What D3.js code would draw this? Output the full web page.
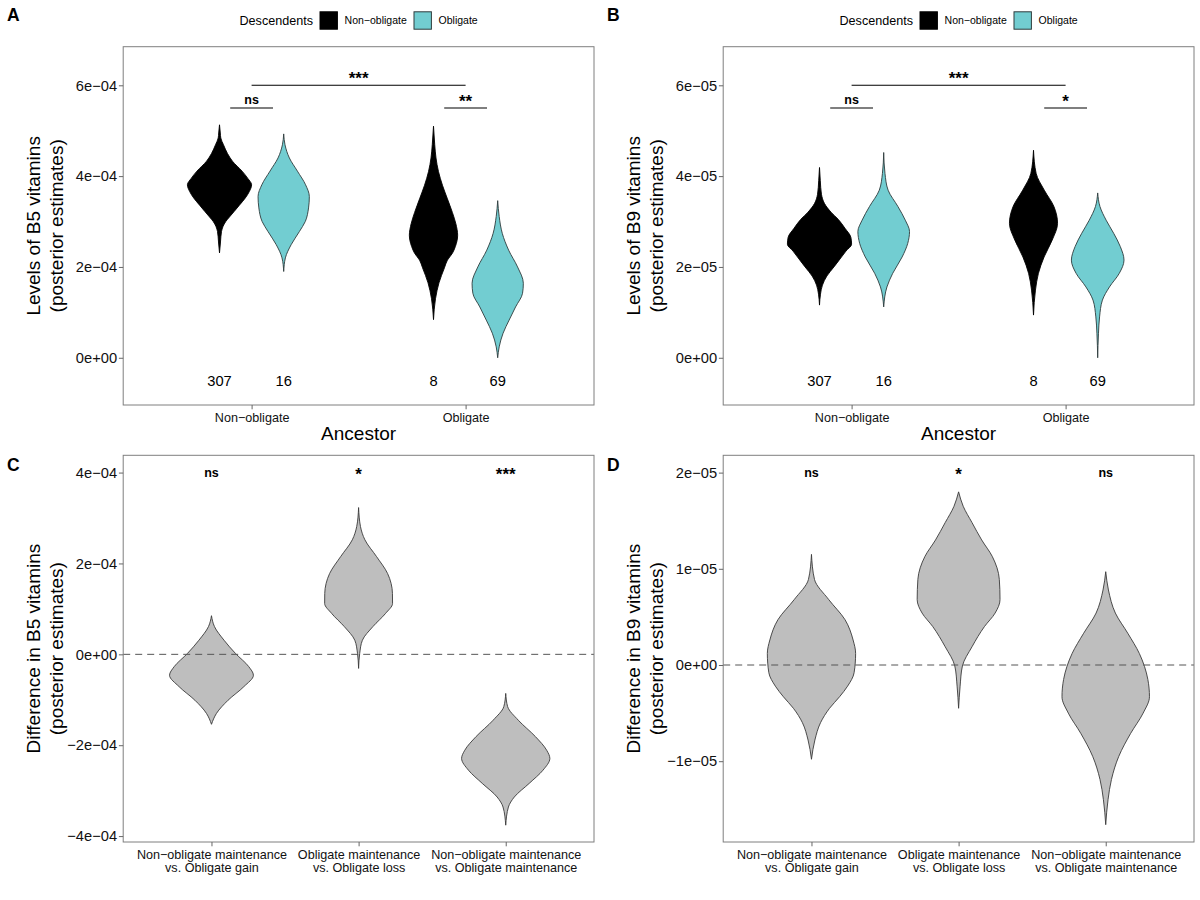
<!DOCTYPE html>
<html>
<head>
<meta charset="utf-8">
<script src="https://cdn.jsdelivr.net/npm/d3@7"></script>
<style>
  body { margin: 0; background: #fff; }
  svg { display: block; }
  text { font-family: "Liberation Sans", Arial, Helvetica, sans-serif; }
</style>
</head>
<body>
<div id="chart"></div>
<script>
// ---- data ----
// categories
const ancestorCats = ["Non−obligate", "Obligate"]
const descendentCats = ["Non−obligate", "Obligate"]
const contrastCats = [
    ["Non−obligate maintenance", "vs. Obligate gain"],
    ["Obligate maintenance", "vs. Obligate loss"],
    ["Non−obligate maintenance", "vs. Obligate maintenance"]
]

// sample sizes per (ancestor, descendent)
const groupCounts = [307, 16, 8, 69]

// violin profiles: [value, relative density], top to bottom
// panel A - B5 levels
const b5NonNon = [[5.13e-4, 0], [4.95e-4, 0.8], [4.84e-4, 1.3], [4.69e-4, 4], [4.50e-4, 8], [4.33e-4, 13],
    [4.11e-4, 22.7], [3.95e-4, 28.5], [3.81e-4, 32.3], [3.66e-4, 30], [3.52e-4, 26], [3.36e-4, 20],
    [3.22e-4, 14.7], [3.10e-4, 10], [3.00e-4, 6.3], [2.78e-4, 2], [2.55e-4, 1], [2.31e-4, 0]]
const b5NonObl = [[4.93e-4, 0], [4.69e-4, 1.3], [4.40e-4, 5.7], [4.11e-4, 13.8], [3.81e-4, 22], [3.55e-4, 25.8],
    [3.30e-4, 25], [3.00e-4, 21.7], [2.78e-4, 15.8], [2.49e-4, 7.5], [2.20e-4, 1.7], [1.90e-4, 0]]
const b5OblNon = [[5.10e-4, 0], [4.70e-4, 1.2], [4.40e-4, 2.5], [4.10e-4, 5], [3.80e-4, 9], [3.50e-4, 14],
    [3.20e-4, 19], [2.95e-4, 22.5], [2.70e-4, 24.3], [2.45e-4, 22], [2.30e-4, 19], [2.15e-4, 14],
    [1.98e-4, 11], [1.65e-4, 5.5], [1.30e-4, 2], [0.84e-4, 0]]
const b5OblObl = [[3.46e-4, 0], [3.11e-4, 1.5], [2.74e-4, 4.6], [2.37e-4, 11], [2.00e-4, 20], [1.64e-4, 25.8],
    [1.42e-4, 25], [1.12e-4, 18], [0.83e-4, 11.5], [0.54e-4, 5.4], [0.24e-4, 1.5], [0, 0]]

// panel B - B9 levels
const b9NonNon = [[4.19e-5, 0], [3.90e-5, 0.8], [3.60e-5, 2], [3.40e-5, 5], [3.20e-5, 12], [3.05e-5, 19],
    [2.85e-5, 26], [2.65e-5, 32], [2.50e-5, 32.7], [2.35e-5, 27], [2.15e-5, 20], [2.00e-5, 14.7],
    [1.80e-5, 7.5], [1.60e-5, 3], [1.40e-5, 1], [1.16e-5, 0]]
const b9NonObl = [[4.52e-5, 0], [4.06e-5, 1.3], [3.69e-5, 4.5], [3.33e-5, 14.5], [3.03e-5, 22], [2.78e-5, 26.3],
    [2.52e-5, 24.5], [2.22e-5, 18.8], [1.86e-5, 9.2], [1.56e-5, 3.3], [1.12e-5, 0]]
const b9OblNon = [[4.57e-5, 0], [4.06e-5, 2.7], [3.69e-5, 11], [3.33e-5, 20.8], [2.96e-5, 24.5], [2.59e-5, 19],
    [2.22e-5, 10.8], [1.86e-5, 5], [1.49e-5, 2], [0.94e-5, 0]]
const b9OblObl = [[3.63e-5, 0], [3.33e-5, 2.3], [3.03e-5, 8.6], [2.74e-5, 16.3], [2.45e-5, 23], [2.15e-5, 26.8],
    [1.86e-5, 22], [1.56e-5, 12], [1.27e-5, 4.8], [0.90e-5, 1.9], [0.54e-5, 0.8], [0, 0]]

// panel C - B5 differences
const b5DiffGain = [[0.85e-4, 0], [0.61e-4, 3], [0.31e-4, 12.6], [0.02e-4, 24], [-0.27e-4, 37.3], [-0.46e-4, 42],
    [-0.71e-4, 32.5], [-1.01e-4, 16.6], [-1.30e-4, 5], [-1.54e-4, 0]]
const b5DiffLoss = [[3.23e-4, 0], [2.81e-4, 1.9], [2.52e-4, 6.3], [2.15e-4, 18], [1.78e-4, 29], [1.34e-4, 33.9],
    [1.12e-4, 34], [0.90e-4, 27], [0.61e-4, 14.3], [0.31e-4, 3.8], [0.02e-4, 1.1], [-0.31e-4, 0]]
const b5DiffMaint = [[-0.86e-4, 0], [-1.15e-4, 1.9], [-1.45e-4, 12.6], [-1.81e-4, 29.7], [-2.11e-4, 41],
    [-2.29e-4, 44.2], [-2.55e-4, 37.3], [-2.84e-4, 23.5], [-3.14e-4, 8.6], [-3.36e-4, 2.7], [-3.76e-4, 0]]

// panel D - B9 differences
const b9DiffGain = [[1.15e-5, 0], [0.89e-5, 3], [0.68e-5, 17.2], [0.47e-5, 33.5], [0.26e-5, 41.5], [0.12e-5, 44],
    [-0.08e-5, 42.5], [-0.22e-5, 36], [-0.33e-5, 28], [-0.45e-5, 18], [-0.60e-5, 9], [-0.78e-5, 3.4], [-0.98e-5, 0]]
const b9DiffLoss = [[1.80e-5, 0], [1.65e-5, 4.6], [1.48e-5, 13.4], [1.30e-5, 23], [1.13e-5, 33.5], [0.89e-5, 40.6],
    [0.68e-5, 41.3], [0.54e-5, 36.4], [0.40e-5, 25.8], [0.19e-5, 13.4], [-0.01e-5, 3.8], [-0.22e-5, 1.5],
    [-0.45e-5, 0]]
const b9DiffMaint = [[0.97e-5, 0], [0.78e-5, 2.7], [0.54e-5, 9.6], [0.33e-5, 22], [0.12e-5, 33.5],
    [-0.15e-5, 42], [-0.33e-5, 43.6], [-0.50e-5, 37.3], [-0.71e-5, 24.9], [-0.95e-5, 13], [-1.19e-5, 5.7],
    [-1.40e-5, 2.3], [-1.66e-5, 0]]

// axis limits and ticks
const b5Limits = [-1.04e-4, 6.85e-4]
const b5Ticks = [0, 2e-4, 4e-4, 6e-4]
const b5TickLabels = ["0e+00", "2e−04", "4e−04", "6e−04"]
const b9Limits = [-1.04e-5, 6.85e-5]
const b9Ticks = [0, 2e-5, 4e-5, 6e-5]
const b9TickLabels = ["0e+00", "2e−05", "4e−05", "6e−05"]
const b5DiffLimits = [-4.13e-4, 4.38e-4]
const b5DiffTicks = [-4e-4, -2e-4, 0, 2e-4, 4e-4]
const b5DiffTickLabels = ["−4e−04", "−2e−04", "0e+00", "2e−04", "4e−04"]
const b9DiffLimits = [-1.84e-5, 2.18e-5]
const b9DiffTicks = [-1e-5, 0, 1e-5, 2e-5]
const b9DiffTickLabels = ["−1e−05", "0e+00", "1e−05", "2e−05"]

// significance: brackets for A/B [from, to, y, label]; from/to are [ancestor, dodge]
const b5Brackets = [[[0, 0], [1, 0], 6e-4, "***"], [[0, -0.1], [0, 0.1], 5.5e-4, "ns"], [[1, -0.1], [1, 0.1], 5.5e-4, "**"]]
const b9Brackets = [[[0, 0], [1, 0], 6e-5, "***"], [[0, -0.1], [0, 0.1], 5.5e-5, "ns"], [[1, -0.1], [1, 0.1], 5.5e-5, "*"]]
const b5DiffSig = ["ns", "*", "***"]
const b9DiffSig = ["ns", "*", "ns"]

// ---- drawing ----
const width = 1200, height = 900
const colors = {"Non−obligate": "#000000", "Obligate": "#72CDD1"}
const strokes = {"Non−obligate": "#000000", "Obligate": "#2E3B3C"}

const svg = d3.select("#chart").append("svg")
    .attr("width", width).attr("height", height)
svg.append("rect").attr("width", width).attr("height", height).attr("fill", "#fff")

const boxTop = {x0: 123.2, x1: 594, y0: 46.7, y1: 405}
const boxBottom = {x0: 123.2, x1: 594, y0: 455.3, y1: 842}

function sigShift(label) {
    // asterisks sit a bit lower than "ns"
    return label.indexOf("*") >= 0 ? 3 : 0
}
function sigSize(label) {
    return label.indexOf("*") >= 0 ? "17px" : "12.5px"
}

function drawPanel(p) {
    const g = svg.append("g").attr("transform", `translate(${p.ox},${p.oy})`)
    const b = p.box
    const catKeys = p.cats.map((c, i) => i)
    const x = d3.scalePoint().domain(catKeys).range([b.x0, b.x1]).padding(0.6)
    const y = d3.scaleLinear().domain(p.limits).range([b.y1, b.y0])
    const step = x.step()
    const maxD = d3.max(p.violins, v => d3.max(v.profile, q => q[1]))
    const w = d3.scaleLinear().domain([0, maxD]).range([0, p.halfWidth * step])

    // violins
    p.violins.forEach(v => {
        const cx = x(v.cat) + v.dodge * step
        const area = d3.area()
            .curve(d3.curveMonotoneY)
            .y(q => y(q[0]))
            .x0(q => cx - w(q[1]))
            .x1(q => cx + w(q[1]))
        g.append("path")
            .datum(v.profile)
            .attr("d", area)
            .attr("fill", v.fill)
            .attr("stroke", v.stroke)
            .attr("stroke-width", 0.9)
    })

    // dashed zero line
    if (p.zeroLine) {
        g.append("line")
            .attr("x1", b.x0).attr("x2", b.x1)
            .attr("y1", y(0)).attr("y2", y(0))
            .attr("stroke", "#555")
            .attr("stroke-width", 1)
            .attr("stroke-dasharray", "7,5")
    }

    // panel border
    g.append("rect")
        .attr("x", b.x0).attr("y", b.y0)
        .attr("width", b.x1 - b.x0).attr("height", b.y1 - b.y0)
        .attr("fill", "none").attr("stroke", "#7f7f7f").attr("stroke-width", 1)

    // y axis
    const yAxis = g.append("g")
        .attr("transform", `translate(${b.x0},0)`)
        .call(d3.axisLeft(y).tickValues(p.ticks)
            .tickFormat((d, i) => p.tickLabels[i]).tickSize(4.3).tickPadding(1.8))
    yAxis.select(".domain").remove()
    yAxis.selectAll("line").attr("stroke", "#666")
    yAxis.selectAll("text")
        .attr("fill", "#111")
        .style("font-size", "14.7px")
        .style("font-family", '"Liberation Sans", Arial, sans-serif')

    // x axis
    const xAxis = g.append("g")
        .attr("transform", `translate(0,${b.y1})`)
        .call(d3.axisBottom(x).tickSize(4.3).tickFormat(""))
    xAxis.select(".domain").remove()
    xAxis.selectAll("line").attr("stroke", "#666")
    xAxis.selectAll(".tick").each(function (d) {
        const lines = [].concat(p.cats[d])
        const t = d3.select(this).append("text")
            .attr("fill", "#111")
            .attr("text-anchor", "middle")
            .style("font-size", "12.6px")
        lines.forEach((s, i) => {
            t.append("tspan").attr("x", 0).attr("y", 16.5 + i * 13.4).text(s)
        })
    })

    // y title
    const yt = g.append("text")
        .attr("transform", `translate(0,${(b.y0 + b.y1) / 2}) rotate(-90)`)
        .attr("text-anchor", "middle")
        .style("font-size", "19px")
        .attr("fill", "#000")
    p.yTitle.forEach((s, i) => {
        yt.append("tspan").attr("x", 0).attr("y", 40.3 + i * 22.6).text(s)
    })

    // x title
    if (p.xTitle) {
        g.append("text")
            .attr("x", (b.x0 + b.x1) / 2).attr("y", b.y1 + 35)
            .attr("text-anchor", "middle")
            .style("font-size", "19px")
            .text(p.xTitle)
    }

    // sample size labels
    if (p.counts) {
        g.selectAll("text.count")
            .data(p.violins)
            .join("text")
            .attr("class", "count")
            .attr("x", v => x(v.cat) + v.dodge * step)
            .attr("y", (v, i) => y(p.countY) + 5.3)
            .attr("text-anchor", "middle")
            .style("font-size", "14.7px")
            .text((v, i) => p.counts[i])
    }

    // brackets
    if (p.brackets) {
        p.brackets.forEach(br => {
            const xa = x(br[0][0]) + br[0][1] * step
            const xb = x(br[1][0]) + br[1][1] * step
            g.append("line")
                .attr("x1", xa).attr("x2", xb)
                .attr("y1", y(br[2])).attr("y2", y(br[2]))
                .attr("stroke", "#000").attr("stroke-width", 1.1)
            g.append("text")
                .attr("x", (xa + xb) / 2)
                .attr("y", y(br[2]) - 4.4 + sigShift(br[3]))
                .attr("text-anchor", "middle")
                .style("font-size", sigSize(br[3]))
                .style("font-weight", "bold")
                .text(br[3])
        })
    }

    // top significance labels
    if (p.sig) {
        p.sig.forEach((s, i) => {
            g.append("text")
                .attr("x", x(i))
                .attr("y", y(p.sigY) + 4.6 + sigShift(s))
                .attr("text-anchor", "middle")
                .style("font-size", sigSize(s))
                .style("font-weight", "bold")
                .text(s)
        })
    }

    // legend
    if (p.legend) {
        const lg = g.append("g")
        let cx = 0
        const title = lg.append("text").attr("x", cx).attr("y", 25.2)
            .style("font-size", "12.6px").text("Descendents")
        cx += title.node().getComputedTextLength() + 7
        descendentCats.forEach(c => {
            lg.append("rect")
                .attr("x", cx).attr("y", 11.8)
                .attr("width", 17.4).attr("height", 17.4)
                .attr("fill", colors[c]).attr("stroke", strokes[c]).attr("stroke-width", 1)
            cx += 17.4 + 7.2
            const t = lg.append("text").attr("x", cx).attr("y", 24.4)
                .style("font-size", "10.5px").text(c)
            cx += t.node().getComputedTextLength() + 7.2
        })
        cx -= 7.2
        lg.attr("transform", `translate(${(b.x0 + b.x1) / 2 - cx / 2},0)`)
    }

    // panel letter
    g.append("text")
        .attr("x", 7).attr("y", p.letterY)
        .style("font-size", "17.5px").style("font-weight", "bold")
        .text(p.letter)
}

function levelViolins(profiles) {
    const out = []
    ancestorCats.forEach((a, ai) => {
        descendentCats.forEach((dc, di) => {
            out.push({
                cat: ai, dodge: di === 0 ? -0.15 : 0.15,
                fill: colors[dc], stroke: strokes[dc],
                profile: profiles[ai * 2 + di]
            })
        })
    })
    return out
}
function diffViolins(profiles) {
    return profiles.map((pr, i) => ({cat: i, dodge: 0, fill: "#BEBEBE", stroke: "#3a3a3a", profile: pr}))
}

drawPanel({
    letter: "A", letterY: 21, ox: 0, oy: 0, box: boxTop, cats: ancestorCats,
    limits: b5Limits, ticks: b5Ticks, tickLabels: b5TickLabels, halfWidth: 0.15,
    violins: levelViolins([b5NonNon, b5NonObl, b5OblNon, b5OblObl]),
    yTitle: ["Levels of B5 vitamins", "(posterior estimates)"], xTitle: "Ancestor",
    counts: groupCounts, countY: -0.507e-4, brackets: b5Brackets, legend: true
})
drawPanel({
    letter: "B", letterY: 21, ox: 600, oy: 0, box: boxTop, cats: ancestorCats,
    limits: b9Limits, ticks: b9Ticks, tickLabels: b9TickLabels, halfWidth: 0.15,
    violins: levelViolins([b9NonNon, b9NonObl, b9OblNon, b9OblObl]),
    yTitle: ["Levels of B9 vitamins", "(posterior estimates)"], xTitle: "Ancestor",
    counts: groupCounts, countY: -0.507e-5, brackets: b9Brackets, legend: true
})
drawPanel({
    letter: "C", letterY: 471, ox: 0, oy: 0, box: boxBottom, cats: contrastCats,
    limits: b5DiffLimits, ticks: b5DiffTicks, tickLabels: b5DiffTickLabels, halfWidth: 0.3,
    violins: diffViolins([b5DiffGain, b5DiffLoss, b5DiffMaint]),
    yTitle: ["Difference in B5 vitamins", "(posterior estimates)"],
    zeroLine: true, sig: b5DiffSig, sigY: 4e-4
})
drawPanel({
    letter: "D", letterY: 471, ox: 600, oy: 0, box: boxBottom, cats: contrastCats,
    limits: b9DiffLimits, ticks: b9DiffTicks, tickLabels: b9DiffTickLabels, halfWidth: 0.3,
    violins: diffViolins([b9DiffGain, b9DiffLoss, b9DiffMaint]),
    yTitle: ["Difference in B9 vitamins", "(posterior estimates)"],
    zeroLine: true, sig: b9DiffSig, sigY: 2e-5
})
</script>
</body>
</html>
